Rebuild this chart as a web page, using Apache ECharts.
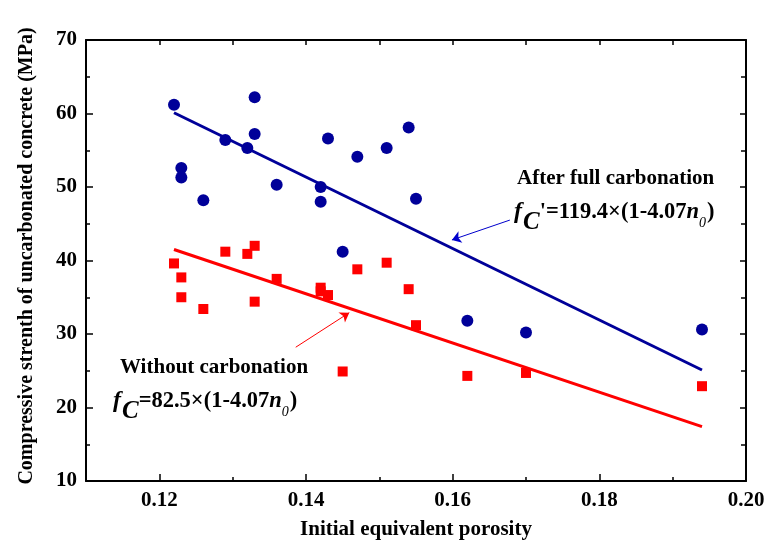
<!DOCTYPE html>
<html>
<head>
<meta charset="utf-8">
<script src="https://cdn.jsdelivr.net/npm/echarts@6/dist/echarts.min.js"></script>
<style>
html,body{margin:0;padding:0;background:#fff;}
#chart{width:766px;height:543px;}
</style>
</head>
<body>
<div id="chart"></div>
<script>
// ---- data ----
const porosityAfter = [0.122,0.123,0.123,0.126,0.129,0.132,0.133,0.133,0.136,0.142,0.142,0.143,0.145,0.147,0.151,0.154,0.155,0.162,0.170,0.194];
const strengthAfter = [61.2,52.6,51.3,48.2,56.4,55.3,62.2,57.2,50.3,50.0,48.0,56.6,41.2,54.1,55.3,58.1,48.4,31.8,30.2,30.6];
const porosityWithout = [0.122,0.123,0.123,0.126,0.129,0.132,0.133,0.133,0.136,0.142,0.142,0.143,0.145,0.147,0.151,0.154,0.155,0.162,0.170,0.194];
const strengthWithout = [39.6,37.7,35.0,33.4,41.2,40.9,42.0,34.4,37.5,36.3,35.8,35.3,24.9,38.8,39.7,36.1,31.2,24.3,24.7,22.9];
const fitX = [0.122, 0.194];
const fitAfter = [60.1, 25.1];
const fitWithout = [41.5, 17.4];
const arrowAfter = [[0.1678, 45.5], [0.1599, 42.8]];
const arrowWithout = [[0.1386, 28.2], [0.1459, 32.9]];
const xMajorTicks = [0.12, 0.14, 0.16, 0.18, 0.20];
const xTickLabels = ['0.12', '0.14', '0.16', '0.18', '0.20'];
const yTickLabels = ['10', '20', '30', '40', '50', '60', '70'];
const xTitle = 'Initial equivalent porosity';
const yTitle = 'Compressive strenth of uncarbonated concrete (MPa)';
const labelAfter = 'After full carbonation';
const labelWithout = 'Without carbonation';
const formulaAfter = [['f', 'f'], ['C', 'sub'], ["'=119.4×(1-4.07", 'm'], ['n', 'n'], ['0', 'z'], [')', 'm']];
const formulaWithout = [['f', 'f'], ['C', 'sub'], ['=82.5×(1-4.07', 'm'], ['n', 'n'], ['0', 'z'], [')', 'm']];

const FAM = '"Liberation Serif", "Times New Roman", serif';
const BLUE = '#000099';
const RED = '#ff0000';

const zip = (xs, ys) => xs.map((x, i) => [x, ys[i]]);

// formula piece styles: font and vertical shift relative to the main line centre
const pieceStyle = {
  f:   {font: 'italic bold 24px ' + FAM, dy: 0},
  sub: {font: 'italic bold 25px ' + FAM, dy: 11},
  m:   {font: 'bold 22.5px ' + FAM, dy: 0},
  n:   {font: 'italic bold 22.5px ' + FAM, dy: 0},
  z:   {font: 'italic 14px ' + FAM, dy: 11}
};
const measureCtx = document.createElement('canvas').getContext('2d');
function formulaGraphic(pieces, x0, yc) {
  const children = [];
  let x = x0;
  pieces.forEach(([t, k]) => {
    const st = pieceStyle[k];
    measureCtx.font = st.font;
    const w = measureCtx.measureText(t).width;
    children.push({type: 'text', x: x, y: yc + st.dy, style: {text: t, font: st.font, fill: '#000', verticalAlign: 'middle', align: 'left'}});
    x += w + (k === 'f' ? 1 : (k === 'z' ? 1 : 0));
  });
  return {type: 'group', z: 10, children: children};
}

const chart = echarts.init(document.getElementById('chart'), null, {renderer: 'canvas'});

const axisLineStyle = {color: '#000', width: 2};
const labelStyle = {color: '#000', fontFamily: FAM, fontWeight: 'bold', fontSize: 21};

const option = {
  animation: false,
  backgroundColor: '#fff',
  grid: {left: 86, right: 20, top: 40, bottom: 62, containLabel: false, outerBoundsMode: 'none'},
  xAxis: [
    {
      type: 'value', position: 'bottom', min: 0.11, max: 0.20, interval: 0.01,
      axisLine: {show: true, onZero: false, lineStyle: axisLineStyle},
      axisTick: {show: true, inside: true, length: 4, lineStyle: {color: '#000', width: 1.5}},
      axisLabel: {
        show: true, margin: 9, ...labelStyle,
        customValues: xMajorTicks,
        formatter: v => { const i = xMajorTicks.findIndex(t => Math.abs(t - v) < 1e-6); return i >= 0 ? xTickLabels[i] : ''; }
      },
      splitLine: {show: false},
      name: xTitle, nameLocation: 'middle', nameGap: 38,
      nameTextStyle: {color: '#000', fontFamily: FAM, fontWeight: 'bold', fontSize: 21}
    },
    {
      type: 'value', position: 'bottom', min: 0.11, max: 0.20, interval: 0.01,
      axisLine: {show: false, onZero: false},
      axisTick: {show: true, inside: true, length: 7, customValues: xMajorTicks, lineStyle: {color: '#000', width: 1.5}},
      axisLabel: {show: false},
      splitLine: {show: false}
    },
    {
      type: 'value', position: 'top', min: 0.11, max: 0.20, interval: 0.01,
      axisLine: {show: true, onZero: false, lineStyle: axisLineStyle},
      axisTick: {show: true, inside: true, length: 5, lineStyle: {color: '#000', width: 1.5}},
      axisLabel: {show: false},
      splitLine: {show: false}
    }
  ],
  yAxis: [
    {
      type: 'value', position: 'left', min: 10, max: 70, interval: 10,
      axisLine: {show: true, onZero: false, lineStyle: axisLineStyle},
      axisTick: {show: true, inside: true, length: 7, lineStyle: {color: '#000', width: 1.5}},
      minorTick: {show: true, splitNumber: 2, length: 4, lineStyle: {color: '#000', width: 1.5}},
      axisLabel: {show: true, margin: 9, ...labelStyle, formatter: v => yTickLabels[Math.round((v - 10) / 10)]},
      splitLine: {show: false},
      name: yTitle, nameLocation: 'middle', nameGap: 49, nameRotate: 90,
      nameTextStyle: {color: '#000', fontFamily: FAM, fontWeight: 'bold', fontSize: 20, padding: [0, 0, 0, 9]}
    },
    {
      type: 'value', position: 'right', min: 10, max: 70, interval: 10,
      axisLine: {show: true, onZero: false, lineStyle: axisLineStyle},
      axisTick: {show: true, inside: true, length: 6, lineStyle: {color: '#000', width: 1.5}},
      minorTick: {show: true, splitNumber: 2, length: 5, lineStyle: {color: '#000', width: 1.5}},
      axisLabel: {show: false},
      splitLine: {show: false}
    }
  ],
  series: [
    {
      name: 'fitAfter', type: 'line', data: zip(fitX, fitAfter), symbol: 'none',
      lineStyle: {color: BLUE, width: 3}, z: 2, silent: true,
      markLine: {
        silent: true, symbol: ['none', 'arrow'], symbolSize: 9,
        lineStyle: {color: '#0000cc', width: 1, type: 'solid'},
        label: {show: false},
        data: [[{coord: arrowAfter[0]}, {coord: arrowAfter[1]}]]
      }
    },
    {
      name: 'fitWithout', type: 'line', data: zip(fitX, fitWithout), symbol: 'none',
      lineStyle: {color: RED, width: 3}, z: 2, silent: true,
      markLine: {
        silent: true, symbol: ['none', 'arrow'], symbolSize: 9,
        lineStyle: {color: RED, width: 1, type: 'solid'},
        label: {show: false},
        data: [[{coord: arrowWithout[0]}, {coord: arrowWithout[1]}]]
      }
    },
    {
      name: labelAfter, type: 'scatter', data: zip(porosityAfter, strengthAfter),
      symbol: 'circle', symbolSize: 12, itemStyle: {color: BLUE, opacity: 1}, z: 3
    },
    {
      name: labelWithout, type: 'scatter', data: zip(porosityWithout, strengthWithout),
      symbol: 'rect', symbolSize: 10, itemStyle: {color: RED, opacity: 1}, z: 3
    }
  ],
  graphic: [
    {type: 'text', left: 517, top: 168, z: 10, style: {text: labelAfter, fill: '#000', font: 'bold 21px ' + FAM}},
    formulaGraphic(formulaAfter, 514, 212),
    {type: 'text', left: 120, top: 357, z: 10, style: {text: labelWithout, fill: '#000', font: 'bold 21px ' + FAM}},
    formulaGraphic(formulaWithout, 113, 401)
  ]
};
chart.setOption(option);
</script>
</body>
</html>
